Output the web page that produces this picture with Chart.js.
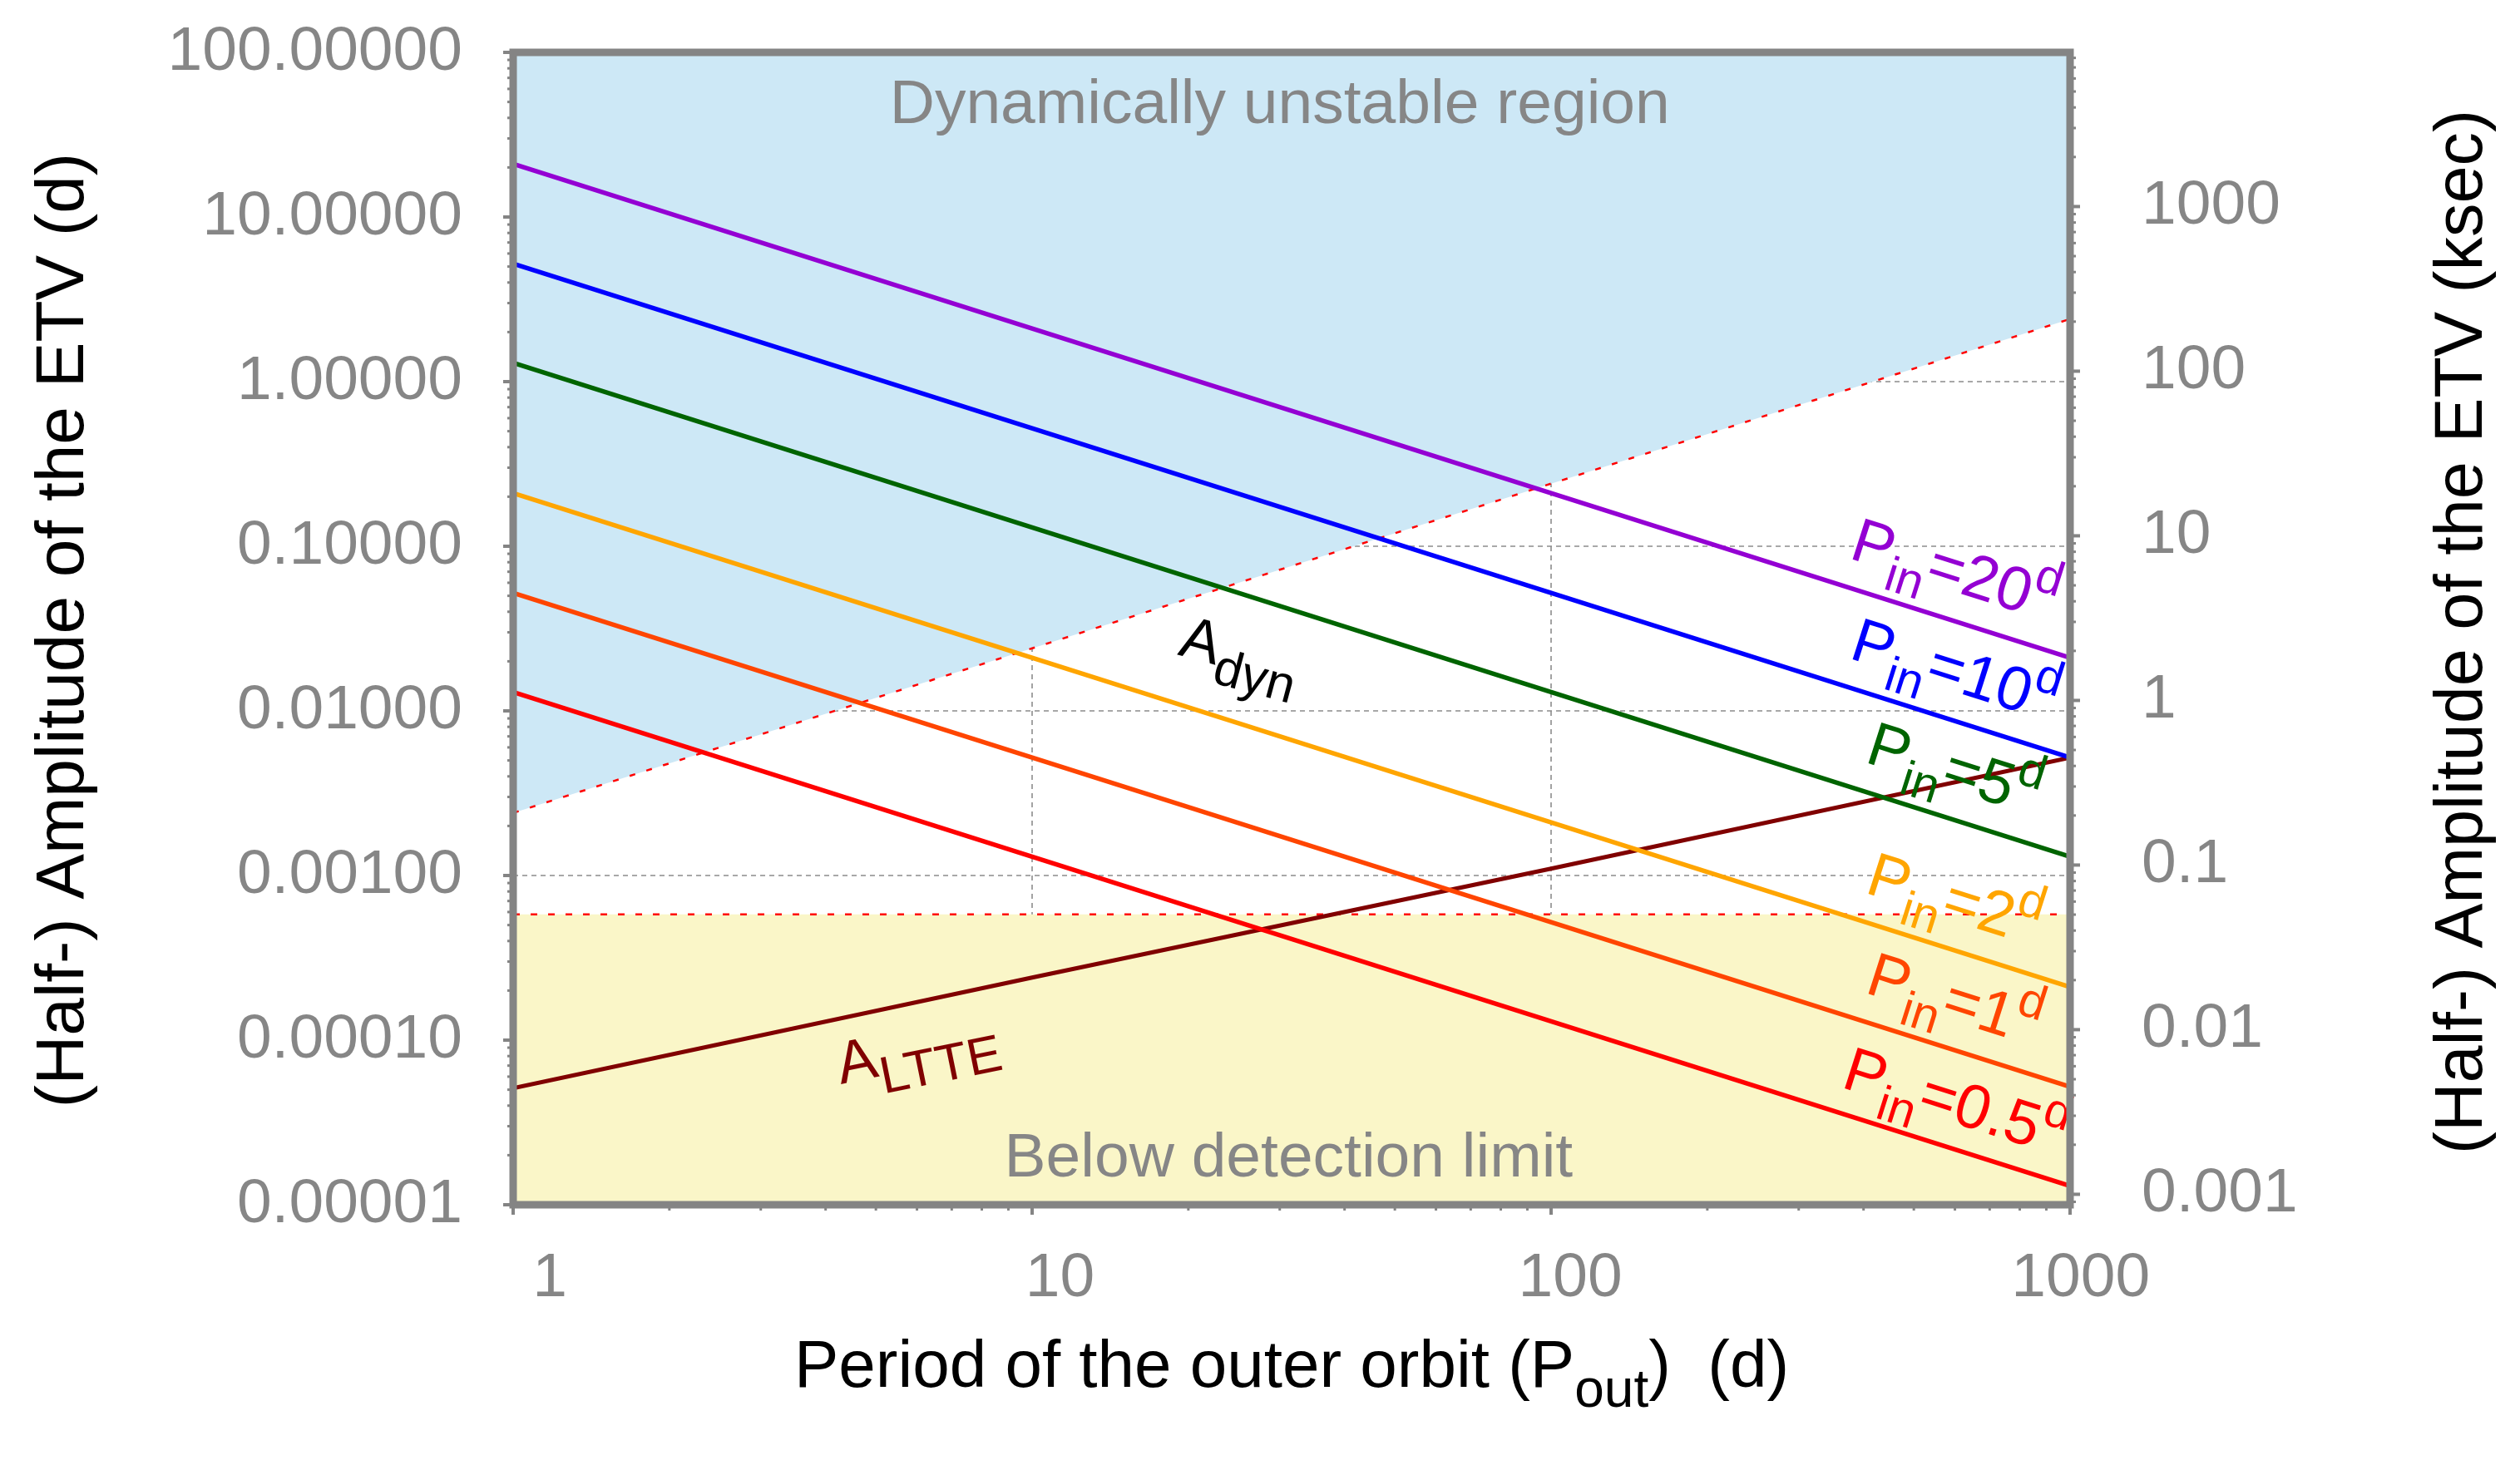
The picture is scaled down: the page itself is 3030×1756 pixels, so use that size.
<!DOCTYPE html>
<html>
<head>
    <title>ETV amplitude vs outer period</title>
    <script src="https://cdn.jsdelivr.net/npm/chart.js"></script>
</head>
<body style="margin: 0; background-color: #ffffff;">
    <canvas id="etvChart" width="3030" height="1756"></canvas>

    <script>
        // Outer orbital period (d)
        var pOut = [1, 10, 100, 1000];

        // Half-amplitudes of the ETV (d)
        var aPin20 = [21, 2.1, 0.21, 0.021];
        var aPin10 = [5.2, 0.52, 0.052, 0.0052];
        var aPin5 = [1.3, 0.13, 0.013, 0.0013];
        var aPin2 = [0.21, 0.021, 0.0021, 0.00021];
        var aPin1 = [0.052, 0.0052, 0.00052, 0.000052];
        var aPin05 = [0.013, 0.0013, 0.00013, 0.000013];
        var aLtte = [0.000051, 0.00024, 0.0011, 0.0052];
        var aDyn = [0.0024, 0.024, 0.24, 2.4];          // dynamical stability limit
        var aLimit = [0.00058, 0.00058, 0.00058, 0.00058]; // detection limit

        // Axis ticks
        var xTicks = [1, 10, 100, 1000];
        var yTicks = [0.00001, 0.0001, 0.001, 0.01, 0.1, 1, 10, 100];
        var y2Ticks = [0.001, 0.01, 0.1, 1, 10, 100, 1000];
        var KSEC_PER_DAY = 86.4;

        var FONT = "'Liberation Sans', Arial, sans-serif";
        var GREY = '#868686';

        // Text placed on the plot (anchor in data units: P_out, amplitude in d)
        var notes = [
            {parts: [['Dynamically unstable region']], x: 30, y: 37, angle: 0, align: 'center', color: GREY, size: 75},
            {parts: [['Below detection limit']], x: 31.2, y: 0.0000149, angle: 0, align: 'center', color: GREY, size: 75},
            {parts: [['A'], ['dyn', 'sub']], x: 19, y: 0.022, angle: 15, color: '#000000', size: 72, sub: 0.85},
            {parts: [['A'], ['LTTE', 'sub']], x: 4.28, y: 0.000054, angle: -11.5, color: '#800000', size: 72, sub: 0.87},
            {parts: [['P'], ['in', 'sub'], ['=20'], ['d', 'sup']], x: 373, y: 0.085, angle: 17.6, color: '#9400d3', size: 75, sub: 0.78},
            {parts: [['P'], ['in', 'sub'], ['=10'], ['d', 'sup']], x: 373, y: 0.021, angle: 17.6, color: '#0000ff', size: 75, sub: 0.78},
            {parts: [['P'], ['in', 'sub'], ['=5'], ['d', 'sup']], x: 400, y: 0.0049, angle: 17.6, color: '#006400', size: 75, sub: 0.78},
            {parts: [['P'], ['in', 'sub'], ['=2'], ['d', 'sup']], x: 400, y: 0.00079, angle: 17.6, color: '#ffa500', size: 75, sub: 0.78},
            {parts: [['P'], ['in', 'sub'], ['=1'], ['d', 'sup']], x: 400, y: 0.000195, angle: 17.6, color: '#ff4500', size: 75, sub: 0.78},
            {parts: [['P'], ['in', 'sub'], ['=0.5'], ['d', 'sup']], x: 360, y: 0.000052, angle: 17.6, color: '#ff0000', size: 75, sub: 0.78}
        ];

        function pts(ys) {
            return pOut.map(function (p, i) { return {x: p, y: ys[i]}; });
        }

        function isDecade(v) {
            var l = Math.log10(v);
            return Math.abs(l - Math.round(l)) < 1e-6;
        }

        function lineSet(label, ys, color, width) {
            return {label: label, data: pts(ys), borderColor: color, borderWidth: width, fill: false, order: 0};
        }

        // keep the plot box where the figure has it, whatever the tick labels ask for
        function fixBox(size, isHeight) {
            return function (s) {
                if (isHeight) { s.height = size; } else { s.width = size; }
                s.paddingTop = 0; s.paddingBottom = 0; s.paddingLeft = 0; s.paddingRight = 0;
            };
        }

        // Text with sub/superscripts, drawn from a baseline anchor
        function richWidth(ctx, parts, size, sub) {
            var w = 0;
            parts.forEach(function (p) {
                ctx.font = (p[1] ? size * sub : size) + 'px ' + FONT;
                w += ctx.measureText(p[0]).width;
            });
            return w;
        }

        function drawRich(ctx, parts, x, y, angle, size, color, align, sub) {
            sub = sub || 0.8;
            ctx.save();
            ctx.translate(x, y);
            ctx.rotate(angle * Math.PI / 180);
            ctx.fillStyle = color;
            ctx.textBaseline = 'alphabetic';
            ctx.textAlign = 'left';
            var cx = align === 'center' ? -richWidth(ctx, parts, size, sub) / 2 : 0;
            parts.forEach(function (p) {
                var s = p[1] ? size * sub : size;
                var dy = p[1] === 'sub' ? size * 0.3 : (p[1] === 'sup' ? -size * 0.42 : 0);
                ctx.font = s + 'px ' + FONT;
                ctx.fillText(p[0], cx, dy);
                cx += ctx.measureText(p[0]).width;
            });
            ctx.restore();
        }

        function tickMarks(ctx, scale, side, area) {
            var lo = scale.min, hi = scale.max;
            for (var e = Math.floor(Math.log10(lo)); e <= Math.ceil(Math.log10(hi)); e++) {
                for (var k = 1; k < 10; k++) {
                    var v = k * Math.pow(10, e);
                    if (v < lo * 0.9999 || v > hi * 1.0001) continue;
                    var len = k === 1 ? 12 : 7;
                    var p = scale.getPixelForValue(v);
                    ctx.lineWidth = k === 1 ? 4 : 3;
                    ctx.beginPath();
                    if (side === 'left') { ctx.moveTo(area.left, p); ctx.lineTo(area.left - len, p); }
                    if (side === 'right') { ctx.moveTo(area.right, p); ctx.lineTo(area.right + len, p); }
                    if (side === 'bottom') { ctx.moveTo(p, area.bottom); ctx.lineTo(p, area.bottom + len); }
                    ctx.stroke();
                }
            }
        }

        var decorations = {
            id: 'decorations',
            beforeDatasetsDraw: function (chart) {
                var ctx = chart.ctx, a = chart.chartArea, sx = chart.scales.x, sy = chart.scales.y;
                ctx.save();
                ctx.strokeStyle = '#8c8c8c';
                ctx.lineWidth = 1.6;
                ctx.setLineDash([6, 5]);
                yTicks.forEach(function (v) {
                    var py = sy.getPixelForValue(v);
                    ctx.beginPath(); ctx.moveTo(a.left, py); ctx.lineTo(a.right, py); ctx.stroke();
                });
                xTicks.forEach(function (v) {
                    var px = sx.getPixelForValue(v);
                    ctx.beginPath(); ctx.moveTo(px, a.top); ctx.lineTo(px, a.bottom); ctx.stroke();
                });
                ctx.restore();
            },
            afterDatasetsDraw: function (chart) {
                var ctx = chart.ctx, a = chart.chartArea, sx = chart.scales.x, sy = chart.scales.y;
                notes.forEach(function (n) {
                    drawRich(ctx, n.parts, sx.getPixelForValue(n.x), sy.getPixelForValue(n.y),
                        n.angle, n.size, n.color, n.align, n.sub);
                });
                ctx.save();
                ctx.strokeStyle = '#848484';
                tickMarks(ctx, sx, 'bottom', a);
                tickMarks(ctx, sy, 'left', a);
                tickMarks(ctx, chart.scales.y2, 'right', a);
                ctx.lineWidth = 9;
                ctx.strokeRect(a.left, a.top, a.right - a.left, a.bottom - a.top);
                ctx.restore();
            },
            afterDraw: function (chart) {
                var ctx = chart.ctx;
                var yTitle = [['(Half-) Amplitude of the ETV (d)']];
                var y2Title = [['(Half-) Amplitude of the ETV (ksec)']];
                var xTitle = [['Period of the outer orbit (P'], ['out', 'sub'], [')  (d)']];
                drawRich(ctx, yTitle, 100, 758, -90, 82, '#000000', 'center');
                drawRich(ctx, y2Title, 2984, 760, -90, 81, '#000000', 'center');
                drawRich(ctx, xTitle, 1553, 1668, 0, 80, '#000000', 'center', 0.8);
            }
        };

        Chart.defaults.font.family = FONT;

        var ctx = document.getElementById('etvChart').getContext('2d');
        var myChart = new Chart(ctx, {
            type: 'line',
            data: {
                datasets: [
                    lineSet('Pin=20d', aPin20, '#9400d3', 5.5),
                    lineSet('Pin=10d', aPin10, '#0000ff', 5.5),
                    lineSet('Pin=5d', aPin5, '#006400', 5.5),
                    lineSet('Pin=2d', aPin2, '#ffa500', 5.5),
                    lineSet('Pin=1d', aPin1, '#ff4500', 5.5),
                    lineSet('Pin=0.5d', aPin05, '#ff0000', 5.5),
                    lineSet('A_LTTE', aLtte, '#800000', 5),
                    {
                        label: 'A_dyn', data: pts(aDyn), order: 1,
                        borderColor: '#ff0000', borderWidth: 2.5, borderDash: [7, 14],
                        backgroundColor: '#cde8f6', fill: 'end'
                    },
                    {
                        label: 'detection limit', data: pts(aLimit), order: 1,
                        borderColor: '#ff0000', borderWidth: 2.5, borderDash: [8, 13],
                        backgroundColor: '#faf6c8', fill: 'start'
                    }
                ]
            },
            options: {
                responsive: false,
                animation: false,
                devicePixelRatio: 1,
                layout: {padding: {top: 63, left: 0, right: 0, bottom: 0}},
                elements: {point: {radius: 0}, line: {tension: 0}},
                plugins: {legend: {display: false}, tooltip: {enabled: false}},
                scales: {
                    x: {
                        type: 'logarithmic', min: 1, max: 1000, position: 'bottom',
                        afterFit: fixBox(307, true),
                        grid: {display: false, drawTicks: false},
                        border: {display: false},
                        ticks: {
                            autoSkip: false, maxRotation: 0, minRotation: 0,
                            padding: 44, labelOffset: 44, color: GREY, font: {size: 75},
                            // the figure's labels sit further right the shorter they are
                            callback: function (v) {
                                if (!isDecade(v)) return '';
                                var s = String(Math.round(v));
                                return s + ' '.repeat(s.length - 1);
                            }
                        }
                    },
                    y: {
                        type: 'logarithmic', min: 0.00001, max: 100, position: 'left',
                        afterFit: fixBox(617, false),
                        grid: {display: false, drawTicks: false},
                        border: {display: false},
                        ticks: {
                            autoSkip: false, padding: 61, color: GREY, font: {size: 75},
                            callback: function (v) { return isDecade(v) ? v.toFixed(5) : ''; }
                        }
                    },
                    y2: {
                        type: 'logarithmic', position: 'right',
                        min: 0.00001 * KSEC_PER_DAY, max: 100 * KSEC_PER_DAY,
                        afterFit: fixBox(541, false),
                        grid: {display: false, drawTicks: false},
                        border: {display: false},
                        ticks: {
                            autoSkip: false, padding: 86, color: GREY, font: {size: 75},
                            callback: function (v) {
                                if (!isDecade(v)) return '';
                                return v >= 1 ? String(Math.round(v)) : v.toFixed(-Math.round(Math.log10(v)));
                            }
                        }
                    }
                }
            },
            plugins: [decorations]
        });
    </script>
</body>
</html>
